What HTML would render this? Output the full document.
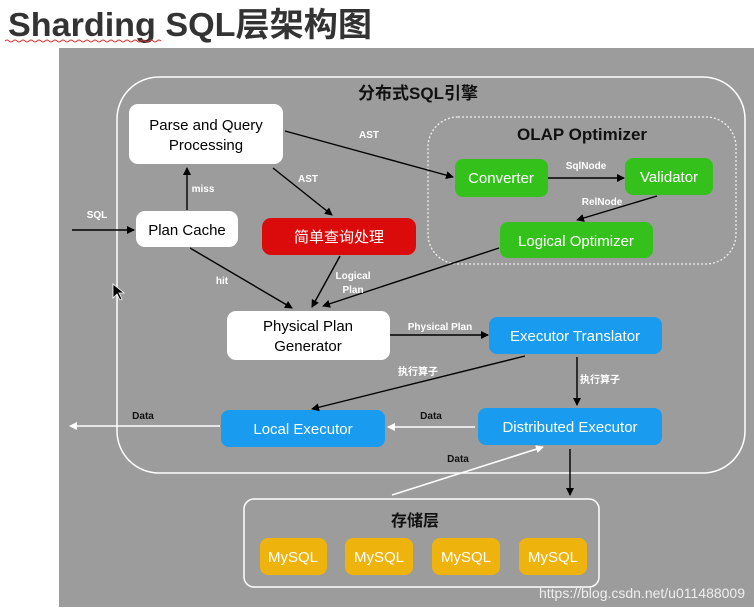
<!DOCTYPE html>
<html><head><meta charset="utf-8"><style>
body{margin:0;width:754px;height:613px;background:#fff;overflow:hidden;font-family:"Liberation Sans","Noto Sans CJK SC",sans-serif;}
</style></head><body>
<svg width="754" height="613" xmlns="http://www.w3.org/2000/svg" style="position:absolute;left:0;top:0" font-family="Liberation Sans, Noto Sans CJK SC, sans-serif">
<defs>
<marker id="ab" markerWidth="8" markerHeight="8" refX="7" refY="4" orient="auto" markerUnits="userSpaceOnUse"><path d="M0,0 L8,4 L0,8 z" fill="#000"/></marker>
<marker id="aw" markerWidth="8" markerHeight="8" refX="7" refY="4" orient="auto" markerUnits="userSpaceOnUse"><path d="M0,0 L8,4 L0,8 z" fill="#fff"/></marker>
</defs>
<text x="8" y="36" font-size="33" font-weight="bold" fill="#333" textLength="364" lengthAdjust="spacingAndGlyphs" font-family="Liberation Sans, Noto Sans CJK SC, sans-serif">Sharding SQL层架构图</text>
<path d="M5,41 q2,-2 4,0 t4,0 t4,0 t4,0 t4,0 t4,0 t4,0 t4,0 t4,0 t4,0 t4,0 t4,0 t4,0 t4,0 t4,0 t4,0 t4,0 t4,0 t4,0 t4,0 t4,0 t4,0 t4,0 t4,0 t4,0 t4,0 t4,0 t4,0 t4,0 t4,0 t4,0 t4,0 t4,0 t4,0 t4,0 t4,0 t4,0 t4,0 t4,0" stroke="#d33" fill="none" stroke-width="1"/>
<rect x="59" y="48" width="695" height="559" fill="#9c9c9c"/>
<rect x="117" y="77" width="628" height="396" rx="42" fill="none" stroke="#fff" stroke-width="1.5"/>
<text x="418" y="99" font-size="17" font-weight="bold" fill="#111" text-anchor="middle">分布式SQL引擎</text>
<rect x="428" y="117" width="308" height="147" rx="30" fill="none" stroke="#eee" stroke-width="1.3" stroke-dasharray="2,2"/>
<text x="582" y="140" font-size="17" font-weight="bold" fill="#111" text-anchor="middle">OLAP Optimizer</text>
<g font-size="15" text-anchor="middle">
<rect x="129" y="104" width="154" height="60" rx="9" fill="#fff"/>
<text x="206" y="130" fill="#000">Parse and Query</text><text x="206" y="150" fill="#000">Processing</text>
<rect x="136" y="211" width="102" height="36" rx="9" fill="#fff"/>
<text x="187" y="235" fill="#000">Plan Cache</text>
<rect x="262" y="218" width="154" height="37" rx="9" fill="#dc0b0b"/>
<text x="339" y="242" fill="#fff">简单查询处理</text>
<rect x="455" y="159" width="93" height="38" rx="8" fill="#35c11c"/>
<text x="501" y="183" fill="#fff">Converter</text>
<rect x="625" y="158" width="88" height="37" rx="8" fill="#35c11c"/>
<text x="669" y="182" fill="#fff">Validator</text>
<rect x="500" y="222" width="153" height="36" rx="8" fill="#35c11c"/>
<text x="576" y="246" fill="#fff">Logical Optimizer</text>
<rect x="227" y="311" width="163" height="49" rx="9" fill="#fff"/>
<text x="308" y="331" fill="#000">Physical Plan</text><text x="308" y="351" fill="#000">Generator</text>
<rect x="489" y="317" width="173" height="37" rx="8" fill="#199cf0"/>
<text x="575" y="341" fill="#fff">Executor Translator</text>
<rect x="221" y="410" width="164" height="37" rx="8" fill="#199cf0"/>
<text x="303" y="434" fill="#fff">Local Executor</text>
<rect x="478" y="408" width="184" height="37" rx="8" fill="#199cf0"/>
<text x="570" y="432" fill="#fff">Distributed Executor</text>
<rect x="244" y="499" width="355" height="88" rx="10" fill="none" stroke="#fff" stroke-width="1.5"/>
<text x="415" y="526" font-size="16" font-weight="bold" fill="#111">存储层</text>
<rect x="260" y="538" width="67" height="37" rx="8" fill="#efb30e"/><text x="293" y="562" fill="#fff">MySQL</text>
<rect x="345" y="538" width="68" height="37" rx="8" fill="#efb30e"/><text x="379" y="562" fill="#fff">MySQL</text>
<rect x="432" y="538" width="68" height="37" rx="8" fill="#efb30e"/><text x="466" y="562" fill="#fff">MySQL</text>
<rect x="519" y="538" width="68" height="37" rx="8" fill="#efb30e"/><text x="553" y="562" fill="#fff">MySQL</text>
</g>
<g stroke="#000" stroke-width="1.4" fill="none">
<line x1="72" y1="230" x2="134" y2="230" marker-end="url(#ab)"/>
<line x1="187" y1="210" x2="187" y2="168" marker-end="url(#ab)"/>
<line x1="285" y1="131" x2="453" y2="177" marker-end="url(#ab)"/>
<line x1="273" y1="168" x2="332" y2="215" marker-end="url(#ab)"/>
<line x1="548" y1="178" x2="624" y2="178" marker-end="url(#ab)"/>
<line x1="657" y1="196" x2="577" y2="220" marker-end="url(#ab)"/>
<line x1="190" y1="248" x2="292" y2="308" marker-end="url(#ab)"/>
<line x1="340" y1="256" x2="312" y2="307" marker-end="url(#ab)"/>
<line x1="499" y1="248" x2="323" y2="306" marker-end="url(#ab)"/>
<line x1="390" y1="335" x2="488" y2="335" marker-end="url(#ab)"/>
<line x1="525" y1="356" x2="312" y2="409" marker-end="url(#ab)"/>
<line x1="577" y1="357" x2="577" y2="405" marker-end="url(#ab)"/>
<line x1="570" y1="449" x2="570" y2="495" marker-end="url(#ab)"/>
</g>
<g stroke="#fff" stroke-width="1.6" fill="none">
<line x1="475" y1="427" x2="388" y2="427" marker-end="url(#aw)"/>
<line x1="220" y1="426" x2="70" y2="426" marker-end="url(#aw)"/>
<line x1="392" y1="495" x2="543" y2="447" marker-end="url(#aw)"/>
</g>
<g font-size="10" font-weight="bold" fill="#fff" text-anchor="middle">
<text x="97" y="218">SQL</text>
<text x="203" y="192">miss</text>
<text x="369" y="138">AST</text>
<text x="308" y="182">AST</text>
<text x="586" y="169">SqlNode</text>
<text x="602" y="205">RelNode</text>
<text x="222" y="284">hit</text>
<text x="353" y="279">Logical</text><text x="353" y="293">Plan</text>
<text x="440" y="330">Physical Plan</text>
<text x="418" y="375">执行算子</text>
<text x="600" y="383">执行算子</text>
</g>
<g font-size="10" font-weight="bold" fill="#111" text-anchor="middle">
<text x="431" y="419">Data</text>
<text x="143" y="419">Data</text>
<text x="458" y="462">Data</text>
</g>
<text x="745" y="598" font-size="14" fill="#eee" text-anchor="end">https://blog.csdn.net/u011488009</text>
<path d="M113,284 l0,14 l4,-4 l3,6 l2,-1 l-3,-6 l5,0 z" fill="#000" stroke="#fff" stroke-width="0.8"/>
</svg>
</body></html>
